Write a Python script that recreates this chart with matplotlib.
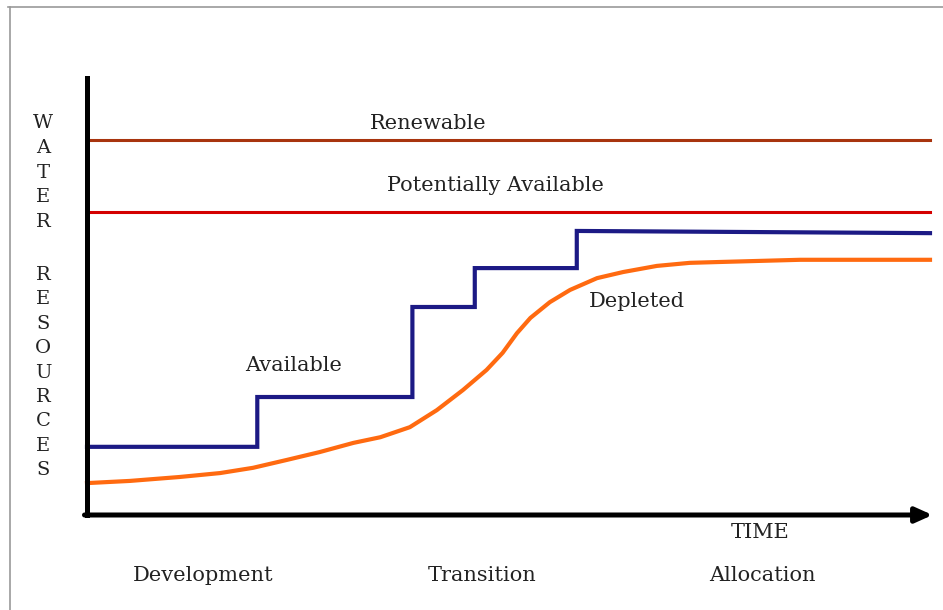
import matplotlib
matplotlib.use('Agg')
import matplotlib.pyplot as plt

# conceptual levels, time 0..100, water 0..100
renewable = 85.8
potentially_available = 69.3

# stepped "Available" curve
avail_t = [0, 20.2, 20.2, 38.6, 38.6, 46.0, 46.0, 58.1, 58.1, 100]
avail_w = [15.6, 15.6, 27.0, 27.0, 47.6, 47.6, 56.5, 56.5, 65.0, 64.5]

# "Depleted" curve, points
depl_t = [0, 5.1, 11.0, 15.8, 19.7, 23.7, 27.6, 31.6, 34.8, 38.3, 41.5, 44.6, 47.4,
          49.3, 51.0, 52.6, 54.9, 57.3, 60.5, 63.6, 67.6, 71.5, 75.1, 84.6, 100]
depl_w = [7.3, 7.8, 8.7, 9.6, 10.8, 12.6, 14.4, 16.5, 17.8, 20.1, 24.0, 28.6, 33.2,
          37.1, 41.6, 45.1, 48.7, 51.5, 54.2, 55.6, 57.0, 57.7, 57.9, 58.4, 58.4]

phases = ['Development', 'Transition', 'Allocation']
phase_t = [13.8, 46.9, 80.1]
ylabel_letters = list('WATER') + [''] + list('RESOURCES')

font = 'DejaVu Serif'
fig = plt.figure(figsize=(9.43, 6.10), dpi=100)
ax = fig.add_axes([87/943, 95/610, 843/943, 437/610])
ax.set_xlim(0, 100)
ax.set_ylim(0, 100)
ax.set_xticks([])
ax.set_yticks([])
for s in ['top', 'right', 'bottom']:
    ax.spines[s].set_visible(False)
ax.spines['left'].set_linewidth(3.6)

# time axis with arrow
ax.annotate('', xy=(100.3, 0), xytext=(-0.3, 0), xycoords='data',
            arrowprops=dict(arrowstyle='-|>,head_length=1.0,head_width=0.45',
                            lw=3.6, color='black', shrinkA=0, shrinkB=0),
            annotation_clip=False)

ax.plot([0, 100], [renewable, renewable], color='#a8340e', lw=2.2, clip_on=False)
ax.plot([0, 100], [potentially_available, potentially_available], color='#d40000', lw=2.2, clip_on=False)
ax.plot(avail_t, avail_w, color='#1c1a85', lw=3.0, solid_joinstyle='miter', clip_on=False)
ax.plot(depl_t, depl_w, color='#ff6a10', lw=3.0, solid_joinstyle='round', clip_on=False)

ax.text(40.5, 89.5, 'Renewable', family=font, fontsize=15, ha='center', va='center', color='#222222')
ax.text(48.5, 75.5, 'Potentially Available', family=font, fontsize=15, ha='center', va='center', color='#222222')
ax.text(24.5, 34.3, 'Available', family=font, fontsize=15, ha='center', va='center', color='#222222')
ax.text(65.2, 48.9, 'Depleted', family=font, fontsize=15, ha='center', va='center', color='#222222')
ax.text(79.8, -4.1, 'TIME', family=font, fontsize=15, ha='center', va='center', color='#222222')
for name, t in zip(phases, phase_t):
    ax.text(t, -13.9, name, family=font, fontsize=15, ha='center', va='center', color='#222222')

# stacked vertical axis label
for i, ch in enumerate(ylabel_letters):
    py = 123 + i * 24.8 if i < 5 else 275 + (i - 6) * 24.4
    fig.text(43/943, 1 - py/610, ch, family=font, fontsize=14, ha='center', va='center', color='#222222')

# thin frame around the picture
fig.add_artist(plt.Line2D([8/943, 1], [1 - 7/610, 1 - 7/610], color='#999999', lw=1.2))
fig.add_artist(plt.Line2D([10/943, 10/943], [0, 1 - 7/610], color='#999999', lw=1.2))

fig.savefig('out.png', dpi=100)
